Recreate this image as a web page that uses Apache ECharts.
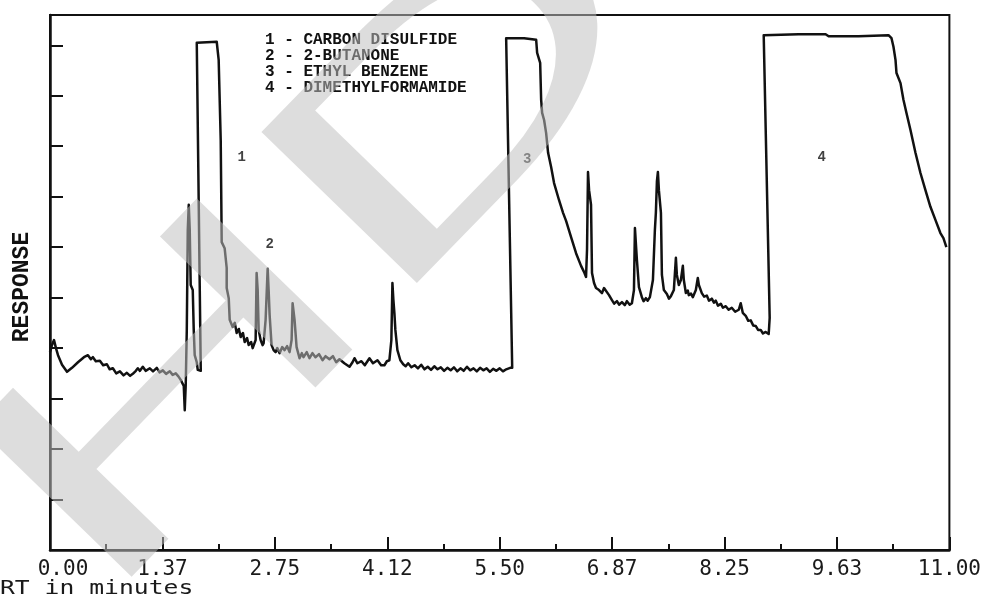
<!DOCTYPE html>
<html><head><meta charset="utf-8">
<script src="https://cdn.jsdelivr.net/npm/echarts@6/dist/echarts.min.js"></script>
<style>html,body{margin:0;padding:0;background:#fff}#c{width:984px;height:602px}</style>
</head><body><div id="c"></div>
<script>
// Trace: [retention time (min), response (axis units, 1 per tick)]
const solventRegion = [[0.000,3.92],[0.024,4.06],[0.049,4.16],[0.073,4.00],[0.098,3.86],[0.147,3.67],[0.208,3.53],[0.269,3.61],[0.342,3.72],[0.415,3.82],[0.464,3.86],[0.50,3.78],[0.525,3.82],[0.56,3.74],[0.610,3.75],[0.65,3.66],[0.696,3.68],[0.73,3.58],[0.769,3.60],[0.81,3.50],[0.855,3.54],[0.90,3.46],[0.940,3.51],[0.98,3.45],[1.013,3.49],[1.05,3.55],[1.074,3.60],[1.10,3.55],[1.135,3.63],[1.17,3.55],[1.221,3.60],[1.26,3.54],[1.306,3.61],[1.34,3.52],[1.380,3.56],[1.42,3.49],[1.465,3.54],[1.50,3.47],[1.538,3.50],[1.570,3.44],[1.599,3.37],[1.636,3.25],[1.648,2.77],[1.660,3.27],[1.673,4.36],[1.685,6.34],[1.697,6.84],[1.709,6.34],[1.721,5.25],[1.746,5.15],[1.758,4.36],[1.770,3.86],[1.795,3.72],[1.807,3.57],[1.844,3.55]];
const peak1Region = [[1.795,10.05],[2.039,10.07],[2.063,9.71],[2.088,8.12],[2.100,6.10],[2.136,5.98],[2.161,5.59],[2.161,5.19],[2.186,4.99],[2.198,4.56],[2.234,4.42],[2.26,4.50],[2.283,4.30],[2.31,4.38],[2.332,4.22],[2.36,4.30],[2.381,4.12],[2.41,4.20],[2.430,4.06],[2.46,4.12],[2.479,4.00],[2.515,4.16],[2.527,5.49],[2.540,5.15],[2.552,4.36],[2.576,4.16],[2.60,4.06],[2.613,4.10],[2.637,4.56],[2.662,5.57],[2.674,5.15],[2.686,4.66],[2.710,4.06],[2.735,3.96],[2.759,3.92],[2.78,4.00],[2.808,3.90],[2.84,4.02],[2.869,3.96],[2.90,4.04],[2.930,3.92],[2.955,4.16],[2.967,4.89],[2.991,4.56],[3.016,4.02],[3.052,3.80],[3.08,3.90],[3.101,3.82],[3.14,3.92],[3.174,3.80],[3.21,3.90],[3.247,3.82],[3.29,3.88],[3.333,3.76],[3.37,3.84],[3.418,3.78],[3.46,3.84],[3.50,3.72],[3.540,3.78],[3.60,3.70],[3.663,3.63],[3.70,3.72],[3.724,3.80],[3.76,3.70],[3.809,3.74],[3.85,3.66],[3.907,3.80],[3.95,3.70],[4.005,3.76],[4.05,3.66],[4.090,3.66],[4.12,3.74],[4.151,3.76],[4.175,4.16],[4.188,5.29],[4.200,4.95],[4.212,4.70],[4.224,4.36],[4.249,3.96],[4.285,3.76]];
const lateBaseline = [[4.32,3.68],[4.35,3.64],[4.38,3.70],[4.42,3.62],[4.46,3.66],[4.50,3.60],[4.54,3.67],[4.58,3.58],[4.62,3.63],[4.66,3.57],[4.70,3.64],[4.74,3.58],[4.78,3.62],[4.82,3.55],[4.86,3.61],[4.90,3.56],[4.94,3.62],[4.98,3.54],[5.02,3.60],[5.06,3.55],[5.10,3.63],[5.14,3.56],[5.18,3.60],[5.22,3.54],[5.26,3.61],[5.30,3.56],[5.34,3.60],[5.38,3.53],[5.42,3.59],[5.46,3.55],[5.50,3.60],[5.54,3.54],[5.58,3.58],[5.628,3.61],[5.653,3.61]];
const peak3Region = [[5.579,10.14],[5.799,10.14],[5.946,10.11],[5.958,9.85],[5.995,9.65],[6.007,8.92],[6.019,8.66],[6.043,8.52],[6.068,8.26],[6.092,7.87],[6.129,7.59],[6.165,7.27],[6.226,6.93],[6.275,6.68],[6.312,6.52],[6.373,6.20],[6.434,5.88],[6.495,5.63],[6.531,5.51],[6.556,5.41],[6.568,5.95],[6.580,7.49],[6.593,7.13],[6.617,6.84],[6.629,5.49],[6.654,5.29],[6.678,5.19],[6.715,5.15],[6.751,5.09],[6.776,5.19],[6.800,5.21],[6.837,5.05],[6.873,4.95],[6.90,4.88],[6.934,4.93],[6.96,4.86],[6.995,4.91],[7.03,4.85],[7.056,4.93],[7.09,4.86],[7.117,4.89],[7.142,5.15],[7.154,6.38],[7.166,6.40],[7.178,5.75],[7.203,5.21],[7.239,5.01],[7.26,4.93],[7.288,4.99],[7.31,4.94],[7.337,5.01],[7.374,5.35],[7.398,6.34],[7.410,6.68],[7.423,7.31],[7.435,7.49],[7.447,7.13],[7.472,6.68],[7.484,5.45],[7.508,5.15],[7.545,5.07],[7.57,4.98],[7.594,5.03],[7.630,5.15],[7.655,5.79],[7.667,5.45],[7.691,5.25],[7.716,5.35],[7.740,5.63],[7.752,5.35],[7.777,5.09],[7.80,5.14],[7.813,5.05],[7.84,5.08],[7.862,5.01],[7.899,5.15],[7.923,5.39],[7.936,5.25],[7.972,5.09],[8.00,5.02],[8.033,5.04],[8.06,4.94],[8.094,4.98],[8.12,4.90],[8.143,4.94],[8.17,4.84],[8.204,4.88],[8.23,4.80],[8.265,4.83],[8.30,4.76],[8.338,4.80],[8.38,4.72],[8.424,4.76],[8.448,4.89],[8.473,4.70],[8.509,4.64],[8.54,4.54],[8.570,4.55],[8.60,4.45],[8.631,4.44],[8.66,4.36],[8.692,4.36],[8.72,4.29],[8.753,4.32],[8.790,4.28],[8.802,4.60]];
const peak4Region = [[8.729,10.20],[9.156,10.22],[9.486,10.22],[9.523,10.18],[9.889,10.18],[10.255,10.20],[10.292,10.14],[10.316,9.97],[10.341,9.71],[10.353,9.45],[10.402,9.25],[10.438,8.92],[10.475,8.66],[10.524,8.32],[10.585,7.87],[10.646,7.47],[10.707,7.13],[10.768,6.80],[10.829,6.54],[10.890,6.28],[10.927,6.18],[10.963,6.00]];

const xTickLabels = ['0.00','1.37','2.75','4.12','5.50','6.87','8.25','9.63','11.00'];
const compounds = ['1 - CARBON DISULFIDE','2 - 2-BUTANONE','3 - ETHYL BENZENE','4 - DIMETHYLFORMAMIDE'];
const peakNames = ['1','2','3','4'];
const peakNameRT = [2.344,2.686,5.836,9.437];
const peakNameResp = [7.77,6.06,7.73,7.77];

const trace = [].concat(solventRegion, peak1Region, lateBaseline, peak3Region, peak4Region);
const chart = echarts.init(document.getElementById('c'), null, {renderer:'canvas'});
const mono = 'DejaVu Sans Mono';
const option = {
  animation:false,
  backgroundColor:'#fff',
  grid:{left:50,right:33,top:15,bottom:52,show:true,borderColor:'#111',borderWidth:2},
  xAxis:{type:'value',min:0,max:11,interval:1.375,
    axisLine:{lineStyle:{color:'#111',width:2.5}},
    axisTick:{inside:true,length:13,lineStyle:{color:'#111',width:2}},
    minorTick:{show:true,splitNumber:2,length:6,lineStyle:{color:'#111',width:2}},
    splitLine:{show:false},
    axisLabel:{margin:9,color:'#1a1a1a',fontFamily:mono,fontSize:21,
      formatter:(v)=>{const i=Math.round(v/1.375);const s=xTickLabels[i]||'';return i===0?'{f|'+s+'}':s;},
      rich:{f:{fontFamily:mono,fontSize:21,color:'#1a1a1a',padding:[0,0,0,26]}}}
  },
  yAxis:{type:'value',min:0,max:10.6,interval:1,
    axisLine:{show:true,lineStyle:{color:'#111',width:2.5}},
    axisTick:{show:true,inside:true,length:13,lineStyle:{color:'#111',width:2}},
    axisLabel:{show:false},splitLine:{show:false}
  },
  series:[
    {type:'line',data:trace,showSymbol:false,
     lineStyle:{color:'#111',width:2.5,join:'round'},z:3},
    {type:'scatter',data:peakNameRT.map((x,i)=>[x,peakNameResp[i],peakNames[i]]),symbolSize:0,
     label:{show:true,position:'inside',formatter:(p)=>p.data[2],color:'#111',fontFamily:'Liberation Mono',fontWeight:'bold',fontSize:14},z:4}
  ],
  graphic:[
    ...compounds.map((t,i)=>({type:'text',x:265,y:40+16*i,z:10,
      style:{text:t,fill:'#111',fontFamily:'Liberation Mono',fontWeight:'bold',fontSize:16,align:'left',verticalAlign:'middle'}})),
    {type:'text',x:22,y:287,rotation:Math.PI/2,z:10,
      style:{text:'RESPONSE',fill:'#111',fontFamily:'Liberation Mono',fontWeight:'bold',fontSize:23,align:'center',verticalAlign:'middle'}},
    {type:'text',x:0,y:589,scaleX:1.3,z:10,
      style:{text:'RT in minutes',fill:'#1a1a1a',fontFamily:mono,fontSize:19,align:'left',verticalAlign:'middle'}},
    {type:'text',x:-687,y:1295,rotation:0.80,scaleX:1.8,z:100,silent:true,
      style:{text:'WITHDRAWN',fill:'rgba(190,190,190,0.53)',fontFamily:'Liberation Sans',fontSize:315,align:'left',verticalAlign:'middle'}}
  ]
};
chart.setOption(option);
</script></body></html>
